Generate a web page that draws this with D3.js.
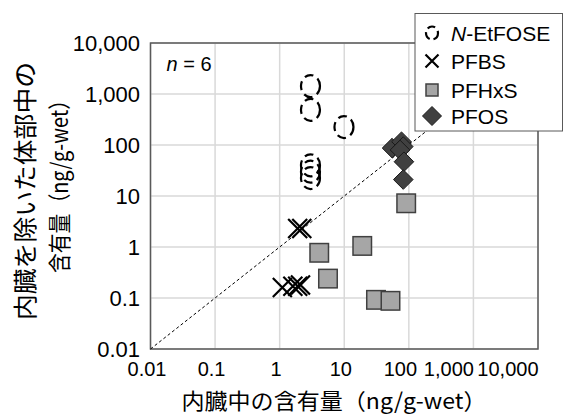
<!DOCTYPE html>
<html>
<head>
<meta charset="utf-8">
<script src="https://cdn.jsdelivr.net/npm/d3@7"></script>
<style>
  body { margin: 0; background: #fff; }
  text { font-family: "Liberation Sans", Arial, sans-serif; fill: #000; }
  .jp { font-family: "Noto Sans CJK JP", sans-serif; }
</style>
</head>
<body>
<svg id="canvas"></svg>
<script>
// 各物質の (内臓中, 内臓を除いた体部中) 含有量 ng/g-wet
const etfoseX = [3.0, 3.0, 9.9, 3.0, 3.0, 3.0];
const etfoseY = [1430, 490, 225, 40, 30, 22.5];

const pfbsX = [1.1, 1.6, 1.9, 2.1, 1.9, 2.2];
const pfbsY = [0.16, 0.17, 0.17, 0.18, 2.3, 2.3];

const pfhxsX = [4.1, 5.6, 19, 31, 52, 91];
const pfhxsY = [0.77, 0.24, 1.05, 0.092, 0.088, 7.2];

const pfosX = [55, 77, 82, 73, 84, 82];
const pfosY = [87, 116, 93, 80, 47, 21];

const seriesNames = ["N-EtFOSE", "PFBS", "PFHxS", "PFOS"];

const tickValues = [0.01, 0.1, 1, 10, 100, 1000, 10000];
const tickLabels = ["0.01", "0.1", "1", "10", "100", "1,000", "10,000"];

const xTitle = "内臓中の含有量（ng/g-wet）";
const yTitle1 = "内臓を除いた体部中の";
const yTitle2 = "含有量（ng/g-wet）";

const width = 566;
const height = 416;
const plotLeft = 150.5, plotRight = 538, plotTop = 43, plotBottom = 349;

let canvas = d3.select('#canvas');
let xScale, yScale;

const drawCanvas = () => {
    canvas.attr('width', width).attr('height', height);
}

const generateScales = () => {
    xScale = d3.scaleLog().domain([0.01, 10000]).range([plotLeft, plotRight]);
    yScale = d3.scaleLog().domain([0.01, 10000]).range([plotBottom, plotTop]);
}

const drawAxes = () => {
    // grid
    canvas.append('g').selectAll('line')
        .data(tickValues)
        .enter().append('line')
        .attr('x1', d => xScale(d)).attr('x2', d => xScale(d))
        .attr('y1', plotTop).attr('y2', plotBottom)
        .attr('stroke', '#d9d9d9').attr('stroke-width', 1.5);
    canvas.append('g').selectAll('line')
        .data(tickValues)
        .enter().append('line')
        .attr('y1', d => yScale(d)).attr('y2', d => yScale(d))
        .attr('x1', plotLeft).attr('x2', plotRight)
        .attr('stroke', '#d9d9d9').attr('stroke-width', 1.5);

    let xAxis = d3.axisBottom(xScale)
        .tickValues(tickValues)
        .tickFormat((d, i) => tickLabels[i])
        .tickSize(0).tickPadding(13);
    let gx = canvas.append('g')
        .attr('transform', 'translate(0,' + plotBottom + ')')
        .call(xAxis);
    gx.select('.domain').remove();
    // labels squeezed toward the left like the original, last two end-aligned
    gx.selectAll('text')
        .attr('font-size', 20)
        .attr('font-family', null)
        .attr('fill', '#000')
        .attr('text-anchor', d => d >= 1000 ? 'end' : 'middle')
        .attr('dx', d => d >= 1000 ? 0 : (d === 100 ? -9 : -4));

    let yAxis = d3.axisLeft(yScale)
        .tickValues(tickValues)
        .tickFormat((d, i) => tickLabels[i])
        .tickSize(0).tickPadding(10.5);
    let gy = canvas.append('g')
        .attr('transform', 'translate(' + plotLeft + ',0)')
        .call(yAxis);
    gy.select('.domain').remove();
    gy.selectAll('text')
        .attr('font-size', 22)
        .attr('font-family', null)
        .attr('fill', '#000');

    // frame
    canvas.append('rect')
        .attr('x', plotLeft).attr('y', plotTop)
        .attr('width', plotRight - plotLeft).attr('height', plotBottom - plotTop)
        .attr('fill', 'none').attr('stroke', '#595959').attr('stroke-width', 1.5);

    // 1:1 line
    canvas.append('line')
        .attr('x1', xScale(0.01)).attr('y1', yScale(0.01))
        .attr('x2', xScale(10000)).attr('y2', yScale(10000))
        .attr('stroke', '#000').attr('stroke-width', 1)
        .attr('stroke-dasharray', '3,2.5');

    canvas.append('text')
        .attr('x', 166.5).attr('y', 70.5)
        .attr('font-size', 20)
        .html('<tspan font-style="italic">n</tspan> = 6');

    canvas.append('text')
        .attr('class', 'jp')
        .attr('x', 334).attr('y', 399)
        .attr('font-size', 22)
        .attr('text-anchor', 'middle')
        .attr('dominant-baseline', 'central')
        .attr('textLength', 305).attr('lengthAdjust', 'spacingAndGlyphs')
        .text(xTitle);

    canvas.append('text')
        .attr('class', 'jp')
        .attr('transform', 'translate(23,191) rotate(-90)')
        .attr('font-size', 24)
        .attr('text-anchor', 'middle')
        .attr('dominant-baseline', 'central')
        .attr('textLength', 258).attr('lengthAdjust', 'spacingAndGlyphs')
        .text(yTitle1);

    canvas.append('text')
        .attr('class', 'jp')
        .attr('transform', 'translate(57.5,181.5) rotate(-90)')
        .attr('font-size', 23)
        .attr('text-anchor', 'middle')
        .attr('dominant-baseline', 'central')
        .attr('textLength', 183).attr('lengthAdjust', 'spacingAndGlyphs')
        .text(yTitle2);
}

const zip = (xs, ys) => xs.map((x, i) => ({x: x, y: ys[i]}));

const drawCircle = (sel, rx, ry, dash) => {
    sel.append('ellipse')
        .attr('rx', rx).attr('ry', ry)
        .attr('fill', 'none').attr('stroke', '#000')
        .attr('stroke-width', 2.2).attr('stroke-dasharray', dash);
}
const drawCross = (sel, s) => {
    sel.append('path')
        .attr('d', `M${-s},${-s}L${s},${s}M${-s},${s}L${s},${-s}`)
        .attr('stroke', '#000').attr('stroke-width', 2.2);
}
const drawSquare = (sel, s) => {
    sel.append('rect')
        .attr('x', -s / 2).attr('y', -s / 2).attr('width', s).attr('height', s)
        .attr('fill', '#a6a6a6').attr('stroke', '#404040').attr('stroke-width', 1.5);
}
const drawDiamond = (sel, s) => {
    sel.append('path')
        .attr('d', `M0,${-s}L${s},0L0,${s}L${-s},0Z`)
        .attr('fill', '#404040').attr('stroke', '#1a1a1a').attr('stroke-width', 1);
}

const drawPoints = () => {
    const place = (data) => canvas.append('g').selectAll('g')
        .data(data).enter().append('g')
        .attr('transform', d => 'translate(' + xScale(d.x) + ',' + yScale(d.y) + ')');

    drawCircle(place(zip(etfoseX, etfoseY)), 9.5, 11, '9,5');
    drawCross(place(zip(pfbsX, pfbsY)), 9.5);
    drawSquare(place(zip(pfhxsX, pfhxsY)), 18.5);
    drawDiamond(place(zip(pfosX, pfosY)), 9.8);
}

const drawLegend = () => {
    let lg = canvas.append('g');
    lg.append('rect')
        .attr('x', 415).attr('y', 13.5).attr('width', 147.5).attr('height', 117.5)
        .attr('fill', '#fff').attr('stroke', '#595959').attr('stroke-width', 1);

    const rowY = [33, 61, 90, 116];
    const items = lg.selectAll('g.item')
        .data(seriesNames).enter().append('g')
        .attr('class', 'item')
        .attr('transform', (d, i) => 'translate(432,' + rowY[i] + ')');

    drawCircle(items.filter((d, i) => i === 0), 6, 6.5, '8,4');
    drawCross(items.filter((d, i) => i === 1), 6.5);
    drawSquare(items.filter((d, i) => i === 2), 12);
    drawDiamond(items.filter((d, i) => i === 3), 9.5);

    items.append('text')
        .attr('x', 19).attr('y', 8)
        .attr('font-size', 21)
        .html(d => d === 'N-EtFOSE'
            ? '<tspan font-style="italic">N</tspan>-EtFOSE' : d);
}

drawCanvas();
generateScales();
drawAxes();
drawPoints();
drawLegend();
</script>
</body>
</html>
